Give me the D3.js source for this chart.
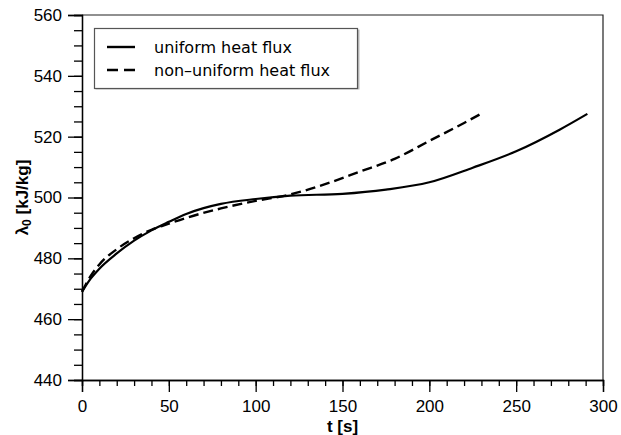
<!DOCTYPE html>
<html>
<head>
<meta charset="utf-8">
<script src="https://cdn.jsdelivr.net/npm/d3@7"></script>
<style>
    body { margin: 0; background: #fff; }
    svg { display: block; }
    .tick text { font-family: "Liberation Sans", Arial, sans-serif; font-size: 17px; fill: #000; }
    .title { font-family: "Liberation Sans", Arial, sans-serif; font-size: 17px; font-weight: bold; }
    .legend text { font-family: "DejaVu Sans", sans-serif; font-size: 16px; fill: #000; }
</style>
</head>
<body>
<svg></svg>
<script>
// uniform heat flux (solid)
var uniformTime = [0, 5, 10, 20, 30, 40, 50, 60, 70, 80, 100, 120, 150, 175, 200, 225, 250, 275, 291]
var uniformLambda = [469, 473.3, 476.6, 481.6, 485.8, 489.2, 492, 494.6, 496.5, 497.9, 499.5, 500.6, 501.2, 502.6, 505, 509.8, 515.2, 522.3, 527.5]

// non-uniform heat flux (dashed)
var nonUniformTime = [0, 5, 10, 20, 30, 40, 50, 60, 80, 100, 120, 140, 160, 180, 200, 220, 230]
var nonUniformLambda = [469, 474.2, 478, 483, 486.6, 489.4, 491.4, 493.3, 496.4, 498.9, 501, 504.4, 508.5, 512.7, 518.6, 524.5, 527.6]

var xTicks = [0, 50, 100, 150, 200, 250, 300]
var yTicks = [440, 460, 480, 500, 520, 540, 560]

var seriesNames = ["uniform heat flux", "non\u2013uniform heat flux"]

var makePoints = function (times, values) {
    return times.map(function (t, i) {
        return { t: t, v: values[i] }
    })
}

var screen = { width: 621, height: 435 }
var margins = { left: 82, right: 18, top: 15, bottom: 55 }
var graph = {
    width: screen.width - margins.left - margins.right,
    height: screen.height - margins.top - margins.bottom
}

var svg = d3.select("svg")
    .attr("width", screen.width)
    .attr("height", screen.height)

var xScale = d3.scaleLinear()
    .domain([0, 300])
    .range([0, graph.width])

var yScale = d3.scaleLinear()
    .domain([440, 560])
    .range([graph.height, 0])

var plot = svg.append("g")
    .attr("transform", "translate(" + margins.left + "," + margins.top + ")")

// frame (top and right)
plot.append("path")
    .attr("d", "M0,0H" + graph.width + "V" + graph.height)
    .attr("fill", "none")
    .attr("stroke", "#222")
    .attr("stroke-width", 1.2)

//minor ticks
plot.append("g")
    .attr("transform", "translate(0," + graph.height + ")")
    .call(d3.axisBottom(xScale).tickValues(d3.range(0, 301, 10)).tickSize(6).tickFormat(""))
plot.append("g")
    .call(d3.axisLeft(yScale).tickValues(d3.range(440, 561, 5)).tickSize(8).tickFormat(""))

//major ticks
var xAxis = plot.append("g")
    .attr("transform", "translate(0," + graph.height + ")")
    .call(d3.axisBottom(xScale).tickValues(xTicks).tickSize(12).tickPadding(8).tickFormat(d3.format("d")))
var yAxis = plot.append("g")
    .call(d3.axisLeft(yScale).tickValues(yTicks).tickSize(14).tickPadding(6).tickFormat(d3.format("d")))

plot.selectAll(".domain").attr("stroke", "#000").attr("stroke-width", 1.3)
plot.selectAll(".tick line").attr("stroke", "#000").attr("stroke-width", 1.3)
xAxis.selectAll("text").attr("dy", "0.71em")

var lineGenerator = d3.line()
    .x(function (d) { return xScale(d.t) })
    .y(function (d) { return yScale(d.v) })
    .curve(d3.curveMonotoneX)

plot.append("path")
    .datum(makePoints(uniformTime, uniformLambda))
    .attr("d", lineGenerator)
    .attr("fill", "none")
    .attr("stroke", "#000")
    .attr("stroke-width", 2.2)

plot.append("path")
    .datum(makePoints(nonUniformTime, nonUniformLambda))
    .attr("d", lineGenerator)
    .attr("fill", "none")
    .attr("stroke", "#000")
    .attr("stroke-width", 2.4)
    .attr("stroke-dasharray", "10,5")

// legend
var legend = svg.append("g").classed("legend", true)
legend.append("rect")
    .attr("x", 95.5).attr("y", 29.5)
    .attr("width", 264).attr("height", 60)
    .attr("fill", "#bbb")
legend.append("rect")
    .attr("x", 94.5).attr("y", 28.5)
    .attr("width", 263).attr("height", 60)
    .attr("fill", "#fff")
    .attr("stroke", "#555")
    .attr("stroke-width", 1.2)

var rows = legend.selectAll("g.row")
    .data(seriesNames)
    .enter()
    .append("g")
    .classed("row", true)
    .attr("transform", function (d, i) { return "translate(107," + (47 + i * 23) + ")" })

rows.append("line")
    .attr("x1", 0).attr("x2", 28)
    .attr("stroke", "#000")
    .attr("stroke-width", 2.4)
    .attr("stroke-dasharray", function (d, i) { return i == 1 ? "11,6" : null })

rows.append("text")
    .attr("x", 47)
    .attr("dy", "0.35em")
    .text(function (d) { return d })

// axis titles
svg.append("text")
    .classed("title", true)
    .attr("text-anchor", "middle")
    .attr("x", margins.left + xScale(150))
    .attr("y", 432)
    .text("t [s]")

var yTitle = svg.append("text")
    .classed("title", true)
    .attr("text-anchor", "middle")
    .attr("transform", "translate(28," + (margins.top + yScale(500)) + ") rotate(-90)")
yTitle.append("tspan").text("λ")
yTitle.append("tspan").attr("font-size", "12px").attr("dy", "3").text("0")
yTitle.append("tspan").attr("dy", "-3").text(" [kJ/kg]")
</script>
</body>
</html>
